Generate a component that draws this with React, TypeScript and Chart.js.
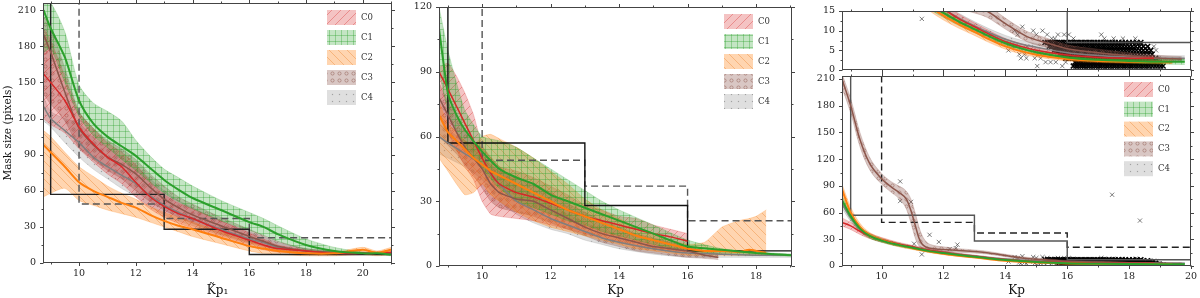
import React, { useEffect, useRef } from 'react';
import { Chart, registerables } from 'chart.js';

Chart.register(...registerables);

const FONT = '"DejaVu Serif", "Liberation Serif", serif';

// ---------------- Panel 1 (K~p1) ----------------
const P1_X = [8.75, 9, 9.5, 10, 10.5, 11, 11.5, 12, 12.5, 13, 13.5, 14, 15, 16, 16.5, 17, 18, 19, 20, 20.5, 21];
const P1_C0_MED = [157, 150, 135, 113, 99, 88, 80, 67, 55, 47, 41, 37, 27, 19, 15, 12, 10, 8, 8, 8, 9];
const P1_C0_HI = [195, 185, 155, 125, 112, 100, 92, 82, 68, 57, 50, 45, 35, 25, 20, 15, 11, 9, 9, 9, 10];
const P1_C0_LO = [120, 115, 108, 95, 84, 74, 66, 55, 45, 38, 33, 29, 21, 14, 11, 9, 8, 7, 7, 7, 7];
const P1_C1_MED = [210, 195, 171, 135, 116, 105, 97, 89, 79, 69, 61, 54, 44, 34, 30, 24, 15, 10, 8, 8, 7];
const P1_C1_HI = [215, 216, 192, 148, 133, 126, 118, 102, 89, 78, 71, 64, 52, 42, 37, 31, 20, 13, 9, 9, 8];
const P1_C1_LO = [175, 178, 150, 122, 106, 96, 86, 77, 67, 58, 51, 45, 35, 27, 23, 18, 11, 8, 7, 7, 6];
const P1_C2_MED = [98, 92, 80, 67, 60, 55, 50, 46, 40, 35, 31, 28, 21, 14, 12, 10, 8, 8, 11, 8.5, 11];
const P1_C2_HI = [110, 105, 92, 80, 72, 64, 58, 53, 47, 42, 38, 34, 26, 18, 15, 12, 10, 9, 13, 10, 13];
const P1_C2_LO = [55, 58, 62, 52, 48, 44, 41, 38, 34, 30, 26, 22, 16, 10, 8, 7, 6, 6, 7, 6, 7];
const P1_C3_MED = [190, 175, 142, 112, 98, 88, 82, 74, 63, 53, 46, 40, 31, 22, 18, 14, 10, 9, 8, 8, 8];
const P1_C3_HI = [205, 196, 162, 126, 112, 102, 95, 86, 74, 64, 55, 49, 38, 28, 23, 18, 12, 10, 9, 9, 9];
const P1_C3_LO = [140, 132, 118, 96, 86, 77, 70, 60, 51, 44, 38, 33, 24, 17, 14, 11, 8, 7, 7, 7, 7];
const P1_C4_MED = [130, 120, 110, 100, 88, 80, 73, 66, 56, 48, 42, 37, 28, 20, 17, 13, 10, 8, 8, 8, 8];
const P1_C4_HI = [138, 126, 120, 116, 104, 96, 88, 80, 70, 60, 52, 46, 35, 26, 22, 17, 12, 10, 9, 9, 9];
const P1_C4_LO = [118, 113, 100, 88, 78, 70, 62, 55, 47, 40, 35, 31, 23, 16, 13, 10, 8, 7, 7, 7, 7];

// ---------------- Panel 2 (Kp) ----------------
const P2_C0_X = [8.74, 9, 9.25, 9.5, 9.75, 10, 10.25, 10.5, 11, 11.5, 12, 12.5, 13, 13.5, 14, 14.5, 15, 15.5, 16];
const P2_C0_MED = [90, 82, 74, 66, 58, 50, 43, 38, 34, 32, 29, 26, 23, 21, 19, 17, 15, 13.5, 11.5];
const P2_C0_HI = [92, 94, 88, 80, 70, 56, 50, 46, 44, 41, 37, 33, 28, 26, 23, 22, 19, 17, 15];
const P2_C0_LO = [70, 62, 54, 46, 40, 30, 24, 23, 22, 21, 19, 17, 15, 13, 11, 9, 8, 7, 6];
const P2_C1_X = [8.74, 9, 9.25, 9.5, 10, 10.5, 11, 11.5, 12, 12.5, 13, 13.5, 14, 15, 16, 17, 18, 19.05];
const P2_C1_MED = [110, 80, 70, 63, 53, 45, 41, 38, 33, 30, 27, 24, 21, 15, 9, 7.5, 6, 5];
const P2_C1_HI = [120, 100, 85, 72, 60, 58, 55, 50, 45, 40, 35, 30, 26, 19, 12, 8, 6.5, 5.5];
const P2_C1_LO = [90, 72, 62, 55, 45, 36, 30, 27, 24, 21, 19, 16, 14, 10, 7, 5.5, 5, 4.5];
const P2_C2_X = [8.74, 9, 9.25, 9.5, 9.75, 10, 10.25, 10.5, 11, 11.5, 12, 12.5, 13, 13.5, 14, 14.5, 15, 15.5, 16, 16.5, 17, 17.5, 17.8, 18, 18.3];
const P2_C2_MED = [70, 62, 58, 54, 50, 47, 44, 42, 38, 34, 30, 26, 23, 20, 17, 14, 12, 10, 8, 7, 7, 6.5, 7.5, 7, 6];
const P2_C2_HI = [76, 66, 62, 58, 56, 60, 61, 59, 55, 50, 44, 38, 31, 26, 22, 18, 15, 12, 10, 11, 18, 21, 22, 23, 26];
const P2_C2_LO = [50, 44, 38, 33, 34, 38, 33, 30, 25, 21, 18, 16, 14, 12, 10, 8, 7, 6, 5, 5, 5, 5, 5, 5, 5];
const P2_C3_X = [8.74, 9, 9.25, 9.5, 9.75, 10, 10.25, 10.5, 11, 11.5, 12, 12.5, 13, 13.5, 14, 14.5, 15, 15.5, 16, 16.5, 16.9];
const P2_C3_MED = [78, 70, 62, 55, 50, 45, 38, 34, 31, 30, 26, 22, 18, 15, 13, 11, 9, 8, 7, 5, 4];
const P2_C3_HI = [85, 76, 70, 63, 58, 52, 47, 44, 41, 38, 34, 29, 25, 21, 18, 15, 13, 11, 9, 7, 6];
const P2_C3_LO = [60, 56, 52, 47, 42, 36, 30, 27, 25, 23, 20, 17, 14, 11, 9, 7, 6, 5, 4, 3.5, 3];
const P2_C4_X = [8.74, 9, 9.5, 10, 10.5, 11, 11.5, 12, 12.5, 13, 13.5, 14, 15, 16, 17, 18, 19.05];
const P2_C4_MED = [60, 57, 52, 47, 38, 30, 26, 22, 19, 16, 13, 11, 8, 6, 5.5, 5, 5];
const P2_C4_HI = [66, 63, 58, 55, 46, 38, 33, 28, 24, 20, 17, 14, 10, 7.5, 6.5, 6, 5.5];
const P2_C4_LO = [52, 50, 46, 40, 30, 24, 20, 17, 15, 12, 10, 8, 5.5, 4, 4, 4, 4];

// ---------------- Panel 3 (Kp, fitted) ----------------
const P3_C0_X = [8.72, 9, 9.3, 9.6, 10, 10.5, 11, 11.5, 12, 12.5, 13, 13.5, 14, 14.5, 15, 16, 17, 18, 18.8];
const P3_C0_MED = [49, 45, 39, 34, 29.5, 25, 21.5, 18, 15.5, 13, 11, 9, 7.2, 6, 5, 3.8, 3.2, 3, 3];
const P3_C0_HI = [54, 49, 43, 37, 32, 27, 23.2, 19.5, 16.8, 14.2, 12, 9.9, 8, 6.7, 5.7, 4.4, 3.8, 3.5, 3.5];
const P3_C0_LO = [45, 41, 35.5, 31, 27, 23, 19.8, 16.6, 14.2, 11.9, 10, 8.1, 6.4, 5.3, 4.3, 3.2, 2.6, 2.5, 2.5];
const P3_C1_X = [8.72, 9, 9.3, 9.6, 10, 10.5, 11, 11.5, 12, 12.5, 13, 13.5, 14, 14.5, 15, 16, 17, 18, 19, 19.8];
const P3_C1_MED = [74, 56, 42, 34, 28.5, 24, 20.5, 17, 14.5, 12.3, 10.4, 8.5, 6.8, 5.5, 4.5, 3.2, 2.6, 2.3, 2.1, 2.1];
const P3_C1_HI = [79, 60, 45, 36.5, 30.5, 25.7, 22, 18.3, 15.6, 13.3, 11.3, 9.3, 7.5, 6.1, 5.1, 3.7, 3.1, 2.8, 2.7, 2.8];
const P3_C1_LO = [69, 52, 39, 31.5, 26.5, 22.3, 19, 15.7, 13.4, 11.3, 9.5, 7.7, 6.1, 4.9, 3.9, 2.7, 2.1, 1.8, 1.5, 1.4];
const P3_C2_X = [8.72, 9, 9.3, 9.6, 10, 10.5, 11, 11.5, 12, 12.5, 13, 13.5, 14, 14.5, 15, 16, 17, 18, 19, 19.4];
const P3_C2_MED = [86, 60, 44, 35, 29, 24, 20, 16.5, 13.8, 11.6, 9.7, 7.7, 6, 4.8, 3.9, 2.8, 2.3, 2.1, 2, 2];
const P3_C2_HI = [92, 66, 48, 38, 31.5, 26, 21.5, 17.8, 15, 12.6, 10.7, 8.6, 6.8, 5.6, 4.6, 3.4, 2.8, 2.5, 2.4, 2.4];
const P3_C2_LO = [78, 55, 40, 32, 27, 22, 18.5, 15.3, 12.7, 10.6, 8.8, 6.9, 5.3, 4.1, 3.3, 2.3, 1.9, 1.7, 1.6, 1.6];
const P3_C3_X = [8.72, 9, 9.3, 9.6, 10, 10.3, 10.55, 10.8, 10.95, 11.1, 11.2, 11.3, 11.45, 11.7, 12, 12.5, 13, 13.4, 14, 14.7, 15.3, 16, 17, 18, 19, 19.7];
const P3_C3_MED = [210, 180, 142, 116, 98, 89, 83, 75, 62, 44, 32, 25, 21, 19.5, 18.5, 17.5, 16.2, 15, 11.8, 8.5, 7, 5.4, 4.4, 3.6, 3, 2.8];
const P3_C3_HI = [216, 188, 150, 123, 104, 95, 90, 84, 75, 58, 45, 35, 27, 23, 21.5, 19.5, 18, 16.6, 13.2, 9.8, 8.2, 6.4, 5.3, 4.4, 3.7, 3.4];
const P3_C3_LO = [200, 172, 134, 109, 92, 83, 76, 64, 48, 30, 23, 20, 18, 17, 16, 15.5, 14.5, 13.4, 10.4, 7.2, 5.8, 4.4, 3.5, 2.8, 2.3, 2.2];
const P3_C4_X = [8.72, 9, 9.3, 9.6, 10, 10.5, 11, 11.5, 12, 12.5, 13, 13.5, 14, 14.5, 15, 16, 17, 18, 19, 19.8];
const P3_C4_MED = [70, 54, 41, 34, 29, 24.5, 21, 18, 15.5, 13.2, 11.2, 9.4, 7.8, 6.6, 5.8, 4.4, 3.7, 3.3, 3, 3];
const P3_C4_HI = [75, 58, 44, 36.5, 31, 26.3, 22.6, 19.4, 16.8, 14.4, 12.3, 10.4, 8.8, 7.6, 6.7, 5.2, 4.4, 3.9, 3.6, 3.6];
const P3_C4_LO = [65, 50, 38, 31.5, 27, 22.7, 19.4, 16.6, 14.2, 12, 10.1, 8.4, 6.8, 5.6, 4.9, 3.6, 3, 2.7, 2.4, 2.4];

// Individual targets (panel 3): integer mask sizes per row, and sparse outliers
const ROW1_X = [16.2, 16.28, 16.35, 16.43, 16.5, 16.57, 16.65, 16.72, 16.8, 16.88, 16.95, 17.03, 17.1, 17.18, 17.26, 17.33, 17.41, 17.49, 17.56, 17.64, 17.72, 17.8, 17.87, 17.95, 18.03, 18.1, 18.18, 18.26, 18.34, 18.42, 18.5, 18.58, 18.66, 18.75, 18.84, 18.93, 19.02, 19.1];
const ROW2_X = [16.25, 16.33, 16.4, 16.48, 16.56, 16.63, 16.71, 16.79, 16.86, 16.94, 17.02, 17.09, 17.17, 17.25, 17.32, 17.4, 17.48, 17.55, 17.63, 17.71, 17.78, 17.86, 17.94, 18.02, 18.1, 18.18, 18.26, 18.34, 18.43, 18.52, 18.61, 18.7, 18.8, 18.9, 18.98];
const ROW3_X = [15.95, 16.03, 16.1, 16.18, 16.26, 16.33, 16.41, 16.49, 16.56, 16.64, 16.72, 16.8, 16.87, 16.95, 17.03, 17.11, 17.18, 17.26, 17.34, 17.42, 17.5, 17.58, 17.66, 17.74, 17.82, 17.9, 17.98, 18.07, 18.16, 18.25, 18.34, 18.44, 18.54, 18.64, 18.75, 18.86];
const ROW4_X = [15.75, 15.83, 15.9, 15.98, 16.05, 16.13, 16.2, 16.28, 16.36, 16.43, 16.51, 16.59, 16.66, 16.74, 16.82, 16.9, 16.97, 17.05, 17.13, 17.21, 17.29, 17.37, 17.45, 17.53, 17.61, 17.69, 17.78, 17.86, 17.95, 18.04, 18.13, 18.22, 18.32, 18.42, 18.52, 18.63, 18.74];
const ROW5_X = [15.58, 15.66, 15.73, 15.81, 15.88, 15.96, 16.03, 16.11, 16.18, 16.26, 16.34, 16.41, 16.49, 16.57, 16.64, 16.72, 16.8, 16.88, 16.95, 17.03, 17.11, 17.19, 17.27, 17.35, 17.43, 17.51, 17.6, 17.68, 17.77, 17.86, 17.95, 18.04, 18.14, 18.24, 18.35, 18.46, 18.58, 18.7];
const ROW6_X = [15.42, 15.5, 15.57, 15.65, 15.72, 15.8, 15.87, 15.95, 16.02, 16.1, 16.18, 16.25, 16.33, 16.41, 16.48, 16.56, 16.64, 16.72, 16.8, 16.87, 16.95, 17.03, 17.11, 17.19, 17.27, 17.36, 17.44, 17.53, 17.62, 17.71, 17.8, 17.9, 18.0, 18.1, 18.21, 18.33, 18.46, 18.6];
const ROW7_X = [15.28, 15.36, 15.45, 15.52, 15.6, 15.67, 15.75, 15.82, 15.9, 15.98, 16.06, 16.14, 16.22, 16.3, 16.38, 16.46, 16.55, 16.63, 16.72, 16.8, 16.89, 16.98, 17.07, 17.16, 17.25, 17.35, 17.45, 17.55, 17.66, 17.77, 17.88, 18.0, 18.12, 18.25, 18.38];
const ROW_LEVELS = [1, 2, 3, 4, 5, 6, 7];
const SPARSE_X = [10.6, 10.6, 10.95, 11.05, 11.3, 11.55, 11.85, 12.2, 12.45, 12.4, 17.45, 18.35,
  14.3, 14.55, 14.4, 14.9, 15.0, 15.2, 15.35, 15.5, 15.6, 15.7, 15.9, 16.05, 16.2, 17.1, 17.2, 17.5, 17.8, 18.2,
  14.45, 14.5, 14.62, 14.68, 14.95, 15.14, 15.03, 15.3, 15.46, 15.63, 15.84, 15.95, 16.17, 18.8, 18.87, 18.76, 18.95, 14.9, 15.15, 14.1, 14.7];
const SPARSE_Y = [95, 73, 72, 25, 13, 35, 27, 19, 24, 20, 80, 51,
  10, 11, 9, 10, 9, 10, 9, 8, 8, 9, 9, 9, 8, 9, 8, 8, 8, 8,
  4, 3, 4, 3, 3, 3, 1, 2, 2, 2, 1, 2, 1, 6, 5, 4, 3, 5, 4, 5, 6];

// Selection thresholds (step functions)
const SOLID_EDGES = [9, 13, 16];
const SOLID_LEVELS = [57, 28, 7];
const DASH_EDGES = [10, 13, 16];
const DASH_LEVELS = [49, 37, 21];

// Ticks
const P1_XTICKS = [10, 12, 14, 16, 18, 20];
const P1_XMINOR = [9, 11, 13, 15, 17, 19, 21];
const P2_XTICKS = [10, 12, 14, 16, 18];
const P2_XMINOR = [9, 11, 13, 15, 17, 19];
const P3_XTICKS = [10, 12, 14, 16, 18, 20];
const P3_XMINOR = [9, 11, 13, 15, 17, 19];
const Y210_TICKS = [0, 30, 60, 90, 120, 150, 180, 210];
const Y210_MINOR = [15, 45, 75, 105, 135, 165, 195];
const Y120_TICKS = [0, 30, 60, 90, 120];
const Y120_MINOR = [15, 45, 75, 105];
const Y15_TICKS = [0, 5, 10, 15];
const Y15_MINOR = [2.5, 7.5, 12.5];

// Series styling
const SERIES_NAMES = ['C0', 'C1', 'C2', 'C3', 'C4'];
const LINE_COLORS = ['#d62728', '#2ca02c', '#ff7f0e', '#8c564b', '#7f7f7f'];
const LINE_WIDTHS = [1.5, 2, 2, 1.5, 1.5];
const FILL_COLORS = ['rgba(214,39,40,0.28)', 'rgba(44,160,44,0.28)', 'rgba(255,127,14,0.33)', 'rgba(140,86,75,0.33)', 'rgba(127,127,127,0.25)'];
const HATCH_COLORS = ['rgba(214,39,40,0.45)', 'rgba(44,160,44,0.45)', 'rgba(230,110,10,0.4)', 'rgba(140,86,75,0.6)', 'rgba(100,100,100,0.5)'];
const EDGE_COLORS = ['rgba(214,39,40,0.35)', 'rgba(44,160,44,0.35)', 'rgba(255,127,14,0.4)', 'rgba(140,86,75,0.4)', 'rgba(127,127,127,0.35)'];
const HATCHES = ['/', '+', '\\', 'o', '.'];
const DRAW_ORDER = [1, 2, 0, 3, 4];

type S = { x: number[]; med: number[]; lo: number[]; hi: number[] };

const P1_SERIES: S[] = [
  { x: P1_X, med: P1_C0_MED, lo: P1_C0_LO, hi: P1_C0_HI },
  { x: P1_X, med: P1_C1_MED, lo: P1_C1_LO, hi: P1_C1_HI },
  { x: P1_X, med: P1_C2_MED, lo: P1_C2_LO, hi: P1_C2_HI },
  { x: P1_X, med: P1_C3_MED, lo: P1_C3_LO, hi: P1_C3_HI },
  { x: P1_X, med: P1_C4_MED, lo: P1_C4_LO, hi: P1_C4_HI },
];
const P2_SERIES: S[] = [
  { x: P2_C0_X, med: P2_C0_MED, lo: P2_C0_LO, hi: P2_C0_HI },
  { x: P2_C1_X, med: P2_C1_MED, lo: P2_C1_LO, hi: P2_C1_HI },
  { x: P2_C2_X, med: P2_C2_MED, lo: P2_C2_LO, hi: P2_C2_HI },
  { x: P2_C3_X, med: P2_C3_MED, lo: P2_C3_LO, hi: P2_C3_HI },
  { x: P2_C4_X, med: P2_C4_MED, lo: P2_C4_LO, hi: P2_C4_HI },
];
const P3_SERIES: S[] = [
  { x: P3_C0_X, med: P3_C0_MED, lo: P3_C0_LO, hi: P3_C0_HI },
  { x: P3_C1_X, med: P3_C1_MED, lo: P3_C1_LO, hi: P3_C1_HI },
  { x: P3_C2_X, med: P3_C2_MED, lo: P3_C2_LO, hi: P3_C2_HI },
  { x: P3_C3_X, med: P3_C3_MED, lo: P3_C3_LO, hi: P3_C3_HI },
  { x: P3_C4_X, med: P3_C4_MED, lo: P3_C4_LO, hi: P3_C4_HI },
];

const PANELS: any[] = [
  {
    area: { left: 43, top: 3, right: 392, bottom: 263 },
    xMin: 8.73, xMax: 21.03, yMin: 0, yMax: 216,
    xMajor: P1_XTICKS, xMinor: P1_XMINOR, yMajor: Y210_TICKS, yMinor: Y210_MINOR,
    xLabels: true, xTitle: 'K\u0303p\u2081', yTitle: 'Mask size (pixels)',
    series: P1_SERIES, tension: 0.25, monotone: false, scatter: false,
    legend: { left: 327, top: 10, dy: 20 }, solidColor: '#222', dashColor: '#555',
  },
  {
    area: { left: 439, top: 7, right: 792, bottom: 266 },
    xMin: 8.74, xMax: 19.05, yMin: 0, yMax: 120,
    xMajor: P2_XTICKS, xMinor: P2_XMINOR, yMajor: Y120_TICKS, yMinor: Y120_MINOR,
    xLabels: true, xTitle: 'Kp', yTitle: null,
    series: P2_SERIES, tension: 0.15, monotone: false, scatter: false,
    legend: { left: 724, top: 14, dy: 20 }, solidColor: '#111', dashColor: '#555',
  },
  {
    area: { left: 842, top: 11, right: 1191, bottom: 70 },
    xMin: 8.72, xMax: 20, yMin: 0, yMax: 15,
    xMajor: P3_XTICKS, xMinor: P3_XMINOR, yMajor: Y15_TICKS, yMinor: Y15_MINOR,
    xLabels: false, xTitle: null, yTitle: null,
    series: P3_SERIES, tension: 0.4, monotone: true, scatter: true,
    legend: null, solidColor: '#555', dashColor: '#222',
  },
  {
    area: { left: 842, top: 76, right: 1191, bottom: 266 },
    xMin: 8.72, xMax: 20, yMin: 0, yMax: 213.4,
    xMajor: P3_XTICKS, xMinor: P3_XMINOR, yMajor: Y210_TICKS, yMinor: Y210_MINOR,
    xLabels: true, xTitle: 'Kp', yTitle: null,
    series: P3_SERIES, tension: 0.4, monotone: true, scatter: true,
    legend: { left: 1124, top: 82, dy: 19.8 }, solidColor: '#555', dashColor: '#222',
  },
];

function pts(x: number[], y: number[]) {
  return x.map((v, i) => ({ x: v, y: y[i] }));
}

function stepPoints(edges: number[], levels: number[], top: number, xEnd: number) {
  const p: { x: number; y: number }[] = [{ x: edges[0], y: top }];
  edges.forEach((e, i) => {
    if (i > 0) p.push({ x: e, y: levels[i - 1] });
    p.push({ x: e, y: levels[i] });
  });
  p.push({ x: xEnd, y: levels[levels.length - 1] });
  return p;
}

function makePattern(kind: string, fill: string, stroke: string): any {
  const c = document.createElement('canvas');
  const s = kind === '+' ? 6 : kind === 'o' ? 7 : kind === '.' ? 7 : 9;
  c.width = s;
  c.height = s;
  const g = c.getContext('2d')!;
  g.fillStyle = fill;
  g.fillRect(0, 0, s, s);
  g.strokeStyle = stroke;
  g.lineWidth = 0.8;
  g.beginPath();
  if (kind === '/') {
    g.moveTo(0, s); g.lineTo(s, 0);
    g.moveTo(-1, 1); g.lineTo(1, -1);
    g.moveTo(s - 1, s + 1); g.lineTo(s + 1, s - 1);
    g.stroke();
  } else if (kind === '\\') {
    g.moveTo(0, 0); g.lineTo(s, s);
    g.moveTo(s - 1, -1); g.lineTo(s + 1, 1);
    g.moveTo(-1, s - 1); g.lineTo(1, s + 1);
    g.stroke();
  } else if (kind === '+') {
    g.moveTo(0, s - 0.5); g.lineTo(s, s - 0.5);
    g.moveTo(s - 0.5, 0); g.lineTo(s - 0.5, s);
    g.stroke();
  } else if (kind === 'o') {
    g.arc(s / 2, s / 2, 1.6, 0, Math.PI * 2);
    g.stroke();
  } else {
    g.fillStyle = stroke;
    g.fillRect(s / 2 - 0.6, s / 2 - 0.6, 1.2, 1.2);
  }
  return g.createPattern(c, 'repeat');
}

function decoPlugin(cfg: any, patterns: any[]) {
  return {
    id: 'panelDeco',
    afterDraw(chart: any) {
      const { ctx, chartArea: a, scales } = chart;
      const xs = scales.x;
      const ys = scales.y;
      ctx.save();
      ctx.strokeStyle = '#444';
      ctx.lineWidth = 1;
      const L = Math.round(a.left) + 0.5;
      const R = Math.round(a.right) - 0.5;
      const T = Math.round(a.top) + 0.5;
      const B = Math.round(a.bottom) - 0.5;
      ctx.strokeRect(L, T, R - L, B - T);
      const seg = (x1: number, y1: number, x2: number, y2: number) => {
        ctx.beginPath(); ctx.moveTo(x1, y1); ctx.lineTo(x2, y2); ctx.stroke();
      };
      const xt = (vals: number[], len: number) => vals.forEach((v) => {
        const p = Math.round(xs.getPixelForValue(v)) + 0.5;
        if (p < L - 1 || p > R + 1) return;
        seg(p, B, p, B + len);
        seg(p, T, p, T - len);
      });
      const yt = (vals: number[], len: number) => vals.forEach((v) => {
        const p = Math.round(ys.getPixelForValue(v)) + 0.5;
        if (p < T - 1 || p > B + 1) return;
        seg(L, p, L - len, p);
        seg(R, p, R + len, p);
      });
      xt(cfg.xMajor, 3.5); xt(cfg.xMinor, 2);
      yt(cfg.yMajor, 3.5); yt(cfg.yMinor, 2);
      if (cfg.legend) {
        const lg = cfg.legend;
        SERIES_NAMES.forEach((name, i) => {
          const y = lg.top + i * lg.dy;
          ctx.fillStyle = '#ffffff';
          ctx.fillRect(lg.left, y, 29, 15);
          ctx.fillStyle = patterns[i];
          ctx.fillRect(lg.left, y, 29, 15);
          ctx.fillStyle = '#333';
          ctx.font = `8.5px ${FONT}`;
          ctx.textBaseline = 'middle';
          ctx.textAlign = 'left';
          ctx.fillText(name, lg.left + 34, y + 7.5);
        });
      }
      ctx.restore();
    },
  };
}

function buildChart(canvas: HTMLCanvasElement, cfg: any, patterns: any[]) {
  const datasets: any[] = [];
  const interp = cfg.monotone ? 'monotone' : 'default';
  DRAW_ORDER.forEach((i) => {
    const s = cfg.series[i];
    datasets.push({
      label: SERIES_NAMES[i],
      data: pts(s.x, s.med),
      borderColor: LINE_COLORS[i],
      borderWidth: LINE_WIDTHS[i],
      pointRadius: 0,
      fill: false,
      tension: cfg.tension,
      cubicInterpolationMode: interp,
    });
  });
  datasets.push({
    label: 'solid',
    data: stepPoints(SOLID_EDGES, SOLID_LEVELS, cfg.yMax + 50, cfg.xMax + 1),
    borderColor: cfg.solidColor, borderWidth: 1.4, pointRadius: 0, fill: false, tension: 0,
  });
  datasets.push({
    label: 'dash',
    data: stepPoints(DASH_EDGES, DASH_LEVELS, cfg.yMax + 50, cfg.xMax + 1),
    borderColor: cfg.dashColor, borderWidth: 1.4, borderDash: [7, 4], pointRadius: 0, fill: false, tension: 0,
  });
  DRAW_ORDER.forEach((i) => {
    const s = cfg.series[i];
    datasets.push({
      label: SERIES_NAMES[i] + ' hi',
      data: pts(s.x, s.hi),
      borderColor: EDGE_COLORS[i], borderWidth: 0.6, pointRadius: 0, fill: false,
      tension: cfg.tension, cubicInterpolationMode: interp,
    });
    datasets.push({
      label: SERIES_NAMES[i] + ' lo',
      data: pts(s.x, s.lo),
      borderColor: EDGE_COLORS[i], borderWidth: 0.6, pointRadius: 0,
      fill: '-1', backgroundColor: patterns[i],
      tension: cfg.tension, cubicInterpolationMode: interp,
    });
  });
  if (cfg.scatter) {
    const rows = [ROW1_X, ROW2_X, ROW3_X, ROW4_X, ROW5_X, ROW6_X, ROW7_X];
    const dense: { x: number; y: number }[] = [];
    rows.forEach((r, k) => r.forEach((x) => dense.push({ x, y: ROW_LEVELS[k] })));
    datasets.push({
      label: 'targets (dense)',
      data: dense,
      showLine: false,
      pointStyle: 'crossRot',
      pointRadius: 3.5,
      pointBorderColor: '#000',
      pointBackgroundColor: 'rgba(0,0,0,0)',
      pointBorderWidth: 1.5,
      borderColor: 'rgba(0,0,0,0)',
      fill: false,
    });
    datasets.push({
      label: 'targets (sparse)',
      data: pts(SPARSE_X, SPARSE_Y),
      showLine: false,
      pointStyle: 'crossRot',
      pointRadius: 3,
      pointBorderColor: 'rgba(40,40,40,0.75)',
      pointBackgroundColor: 'rgba(0,0,0,0)',
      pointBorderWidth: 0.8,
      borderColor: 'rgba(0,0,0,0)',
      fill: false,
    });
  }

  const a = cfg.area;
  const yWidth = cfg.yTitle ? a.left - 2 : 40;
  const xHeight = cfg.xLabels ? 298 - a.bottom : 0;
  const zeroPad = (s: any) => { s.paddingLeft = 0; s.paddingRight = 0; s.paddingTop = 0; s.paddingBottom = 0; };

  return new Chart(canvas, {
    type: 'line',
    data: { datasets },
    options: {
      responsive: false,
      animation: false,
      devicePixelRatio: 1,
      events: [],
      layout: {
        autoPadding: false,
        padding: {
          left: a.left - yWidth,
          top: a.top,
          right: 1200 - a.right,
          bottom: 298 - a.bottom - xHeight,
        },
      },
      scales: {
        x: {
          type: 'linear',
          display: cfg.xLabels,
          min: cfg.xMin,
          max: cfg.xMax,
          afterBuildTicks: (s: any) => { s.ticks = cfg.xMajor.map((v: number) => ({ value: v })); },
          afterFit: (s: any) => { s.height = xHeight; zeroPad(s); },
          grid: { display: false, drawTicks: false },
          border: { display: false },
          ticks: { display: cfg.xLabels, padding: 5, autoSkip: false, maxRotation: 0, color: '#222', font: { family: FONT, size: 9.5 } },
          title: {
            display: !!cfg.xTitle, text: cfg.xTitle || '', color: '#111',
            font: { family: FONT, size: 12 }, padding: { top: 0, bottom: 0 },
          },
        },
        y: {
          type: 'linear',
          min: cfg.yMin,
          max: cfg.yMax,
          afterBuildTicks: (s: any) => { s.ticks = cfg.yMajor.map((v: number) => ({ value: v })); },
          afterFit: (s: any) => { s.width = yWidth; zeroPad(s); },
          grid: { display: false, drawTicks: false },
          border: { display: false },
          ticks: { padding: 7, autoSkip: false, color: '#222', font: { family: FONT, size: 9.5 } },
          title: {
            display: !!cfg.yTitle, text: cfg.yTitle || '', color: '#111',
            font: { family: FONT, size: 10.5 }, padding: { top: 0, bottom: 0 },
          },
        },
      },
      plugins: {
        legend: { display: false },
        tooltip: { enabled: false },
      },
    } as any,
    plugins: [decoPlugin(cfg, patterns)],
  });
}

export default function App() {
  const canvases = useRef<(HTMLCanvasElement | null)[]>([]);
  useEffect(() => {
    const patterns = HATCHES.map((h, i) => makePattern(h, FILL_COLORS[i], HATCH_COLORS[i]));
    const charts = PANELS.map((cfg, k) => buildChart(canvases.current[k] as HTMLCanvasElement, cfg, patterns));
    return () => charts.forEach((c) => c.destroy());
  }, []);
  return (
    <div style={{ position: 'fixed', left: 0, top: 0, width: 1200, height: 298, background: '#fff', overflow: 'hidden' }}>
      {PANELS.map((_, k) => (
        <canvas
          key={k}
          ref={(el) => { canvases.current[k] = el; }}
          width={1200}
          height={298}
          style={{ position: 'absolute', left: 0, top: 0, width: 1200, height: 298 }}
        />
      ))}
    </div>
  );
}
